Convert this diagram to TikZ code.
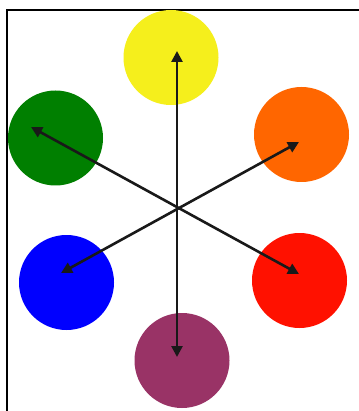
\documentclass[tikz,border=0pt]{standalone}
\usetikzlibrary{arrows.meta}
\definecolor{cyellow}{HTML}{F5EF1C}
\definecolor{cgreen}{HTML}{007F00}
\definecolor{corange}{HTML}{FF6600}
\definecolor{cblue}{HTML}{0000FF}
\definecolor{cred}{HTML}{FF1100}
\definecolor{cpurple}{HTML}{993366}
\tikzset{
  dot/.style={circle, minimum size=95pt, inner sep=0pt, draw=none, fill=#1},
  arr/.style={line width=2.6pt, draw=black!90, {Triangle[length=11pt,width=11pt]}-{Triangle[length=11pt,width=11pt]}},
  frame/.style={line width=2.4pt, line cap=rect}
}
\begin{document}
\begin{tikzpicture}[x=1pt,y=-1pt]
\useasboundingbox (0,0) rectangle (358,411);
\fill[white] (0,0) rectangle (358,411);
\coordinate (fbl) at (7,412);
\coordinate (ftl) at (7,10);
\coordinate (ftr) at (359,10);
\draw[frame] (fbl) -- (ftl) -- (ftr);
\node[dot=cyellow] (yellow) at (171,57.5) {};
\node[dot=cgreen]  (green)  at (55.5,138) {};
\node[dot=corange] (orange) at (301.5,134.5) {};
\node[dot=cblue]   (blue)   at (66.5,282.5) {};
\node[dot=cred]    (red)    at (299.5,280.5) {};
\node[dot=cpurple] (purple) at (182,360.5) {};
\coordinate (ytip) at (177,51);
\coordinate (ptip) at (177,357);
\coordinate (gtip) at (31,127);
\coordinate (rtip) at (299,274);
\coordinate (otip) at (299,142);
\coordinate (btip) at (61,273);
\draw[arr] (ytip) -- (ptip);
\draw[arr] (gtip) -- (rtip);
\draw[arr] (otip) -- (btip);
\end{tikzpicture}
\end{document}
